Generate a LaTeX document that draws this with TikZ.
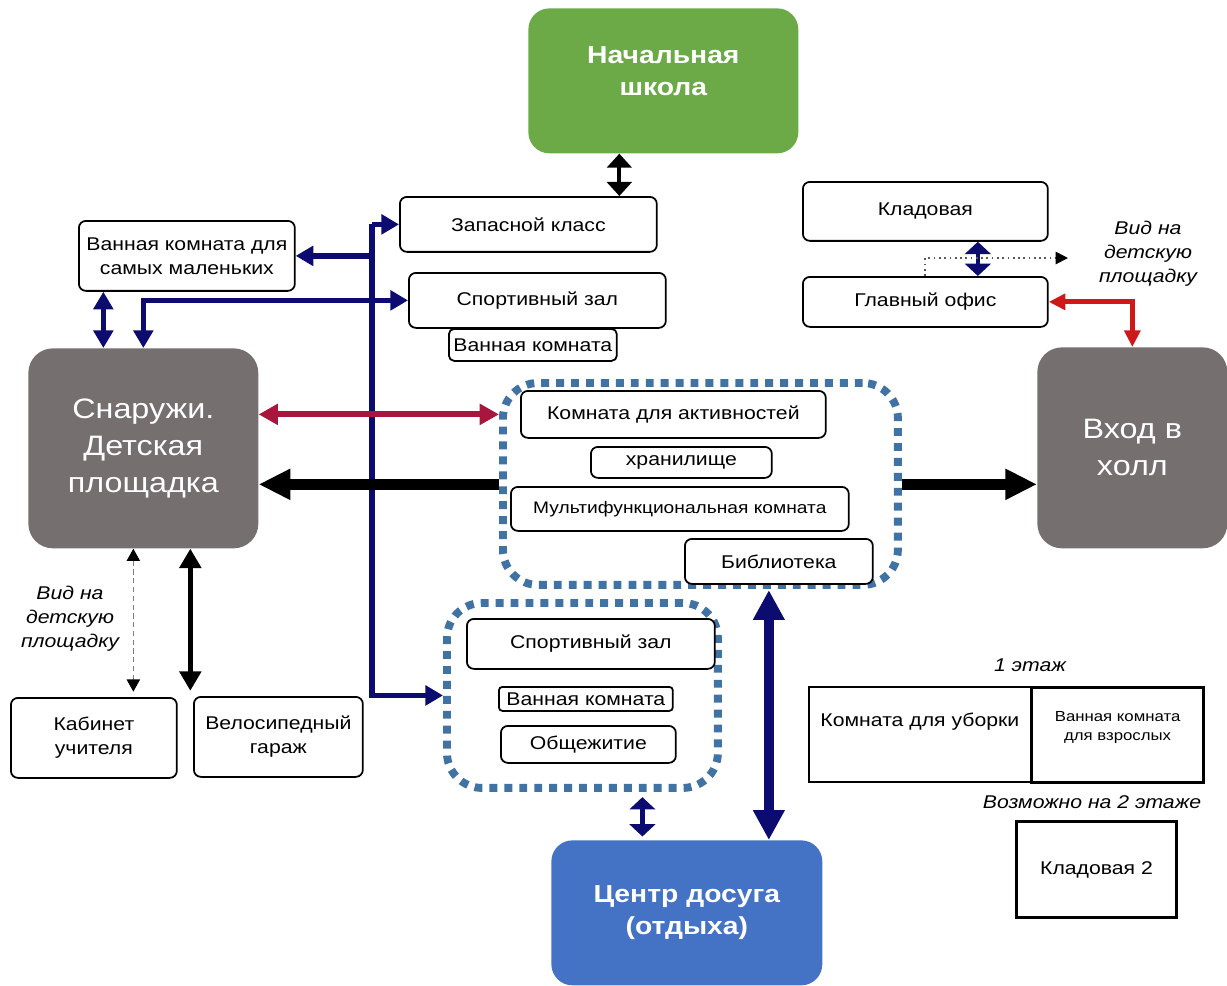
\documentclass[tikz,border=0pt]{standalone}
\usepackage{fontspec}
\setmainfont{Liberation Sans}[FakeStretch=1.15]
\usetikzlibrary{arrows.meta}

\definecolor{schoolgreen}{RGB}{108,170,72}
\definecolor{blockgrey}{RGB}{118,111,111}
\definecolor{leisureblue}{RGB}{68,114,196}
\definecolor{linknavy}{RGB}{12,12,112}
\definecolor{wingblue}{RGB}{64,114,163}
\definecolor{linkcrimson}{RGB}{168,22,62}
\definecolor{linkred}{RGB}{205,25,25}

\tikzset{
  room/.style={draw, line width=1pt, rounded corners=4pt, fill=white, align=center, inner sep=2pt, anchor=north west, font=\fontsize{10.5}{13.6}\selectfont},
  sharproom/.style={room, sharp corners},
  block/.style={rounded corners=14pt, text=white, align=center, anchor=north west, font=\fontsize{16}{21}\selectfont},
  boldblock/.style={block, rounded corners=12pt, font=\fontsize{14}{18}\selectfont\bfseries},
  wing/.style={draw=wingblue, line width=4.5pt, dash pattern=on 4.5pt off 4pt, rounded corners=20pt, anchor=north west},
  note/.style={align=center, font=\fontsize{10.5}{13.6}\selectfont\itshape},
  link/.style={linknavy, line width=3.2pt, >={Triangle[length=10pt,width=11pt]}},
  biglink/.style={linknavy, line width=5.6pt, >={Triangle[length=17pt,width=17pt]}},
  shortlink/.style={linknavy, line width=2.4pt, >={Triangle[length=7pt,width=14.5pt]}},
  schoollink/.style={black, line width=2.4pt, >={Triangle[length=8pt,width=14pt]}},
  fat/.style={black, line width=6.6pt, >={Triangle[length=18pt,width=16.5pt]}},
  bikelink/.style={black, line width=3pt, >={Triangle[length=11pt,width=12pt]}},
  crimsonlink/.style={linkcrimson, line width=3.4pt, >={Triangle[length=11pt,width=11.5pt]}},
  redlink/.style={linkred, line width=2.8pt, >={Triangle[length=9.5pt,width=9pt]}},
  viewdash/.style={gray, line width=0.9pt, dash pattern=on 3pt off 2pt, >={Triangle[length=7pt,width=7.5pt,color=black]}},
  viewdot/.style={gray!70!black, line width=1pt, dotted, >={Triangle[length=7pt,width=7pt,color=black]}}
}

\begin{document}
\begin{tikzpicture}[x=0.02cm, y=-0.02cm]
    \useasboundingbox (0,0) rectangle (1227,985);

    \node[boldblock, fill=schoolgreen, minimum width=5.4cm, minimum height=2.9cm, text depth=0.4cm] (school) at (528,8) {Начальная\\школа};
    \node[room, minimum width=5.14cm, minimum height=1.1cm] (spare) at (399,196) {Запасной класс};
    \node[room, minimum width=5.14cm, minimum height=1.1cm] (gymA) at (408,272) {Спортивный зал};
    \node[room, minimum width=3.36cm, minimum height=0.64cm, rounded corners=3pt] (bathA) at (448,328) {Ванная комната};
    \node[room, minimum width=4.32cm, minimum height=1.4cm] (toddlers) at (78,220) {Ванная комната для\\самых маленьких};
    \node[block, fill=blockgrey, minimum width=4.6cm, minimum height=4cm] (outside) at (28,348) {Снаружи.\\Детская\\площадка};
    \node[block, fill=blockgrey, minimum width=3.8cm, minimum height=4.02cm] (hall) at (1037,347) {Вход в\\холл};
    \node[room, minimum width=4.9cm, minimum height=1.18cm] (pantry) at (802,181) {Кладовая};
    \node[room, minimum width=4.9cm, minimum height=1cm] (office) at (802,276) {Главный офис};

    \node[wing, minimum width=7.9cm, minimum height=4.04cm] (wingA) at (499,379) {};
    \node[room, minimum width=6.1cm, minimum height=0.94cm] (activity) at (520,390) {Комната для активностей};
    \node[room, minimum width=3.62cm, minimum height=0.62cm] (storage) at (590,446) {хранилище};
    \node[room, minimum width=6.76cm, minimum height=0.88cm, font=\fontsize{9.5}{12}\selectfont] (multi) at (510,486) {Мультифункциональная комната};
    \node[room, minimum width=3.76cm, minimum height=0.9cm] (library) at (684,538) {Библиотека};

    \node[wing, minimum width=5.42cm, minimum height=3.7cm] (wingB) at (443,599) {};
    \node[room, minimum width=4.96cm, minimum height=1cm] (gymB) at (466,618) {Спортивный зал};
    \node[room, minimum width=3.48cm, minimum height=0.48cm, rounded corners=2pt] (bathB) at (498,686) {Ванная комната};
    \node[room, minimum width=3.5cm, minimum height=0.74cm] (dorm) at (500,725) {Общежитие};

    \node[boldblock, fill=leisureblue, minimum width=5.42cm, minimum height=2.9cm] (leisure) at (551,840) {Центр досуга\\(отдыха)};

    \node[room, minimum width=3.32cm, minimum height=1.6cm] (teacher) at (10,697) {Кабинет\\учителя};
    \node[room, minimum width=3.38cm, minimum height=1.6cm] (bike) at (193,696) {Велосипедный\\гараж};

    \node[sharproom, minimum width=4.44cm, minimum height=1.9cm, text depth=0.6cm] (cleaning) at (808,686) {Комната для уборки};
    \node[sharproom, line width=1.8pt, minimum width=3.44cm, minimum height=1.9cm, text depth=0.35cm, font=\fontsize{8.3}{10.8}\selectfont] (adultbath) at (1030,686) {Ванная комната\\для взрослых};
    \node[sharproom, line width=1.8pt, minimum width=3.2cm, minimum height=1.92cm] (pantryB) at (1015,820) {Кладовая 2};

    \node[note] (viewR) at (1148,254) {Вид на\\детскую\\площадку};
    \node[note] (viewL) at (70,619) {Вид на\\детскую\\площадку};
    \node[note] (floor1) at (1030,665) {1 этаж};
    \node[note] (floor2) at (1092,802) {Возможно на 2 этаже};

    \coordinate (trunk) at (372,0);
    \draw[link, ->] (trunk |- spare.west) -- (spare.west);
    \draw[link, ->] (trunk |- spare.west) -- (trunk |- wingB.west) -- (wingB.west);
    \draw[link, ->] (trunk |- toddlers.east) -- (toddlers.east);
    \draw[link, <->] (outside.north) -- (outside.north |- gymA.west) -- (gymA.west);
    \coordinate (tx) at ([xshift=-0.8cm]outside.north);
    \draw[link, <->] (tx |- toddlers.south) -- (tx);

    \coordinate (sc) at ([xshift=-0.88cm]school.south);
    \draw[schoollink, <->] (sc) -- (sc |- spare.north);

    \draw[crimsonlink, <->] (outside.east |- activity.west) -- (wingA.west |- activity.west);
    \coordinate (fatrow) at ([yshift=-0.72cm]outside.east);
    \draw[fat, ->] (fatrow -| wingA.west) -- (fatrow);
    \draw[fat, ->] (fatrow -| wingA.east) -- (fatrow -| hall.west);

    \coordinate (lib) at ([xshift=-0.2cm]library.south);
    \draw[biglink, <->, shorten <=3pt] (lib) -- (lib |- leisure.north);
    \coordinate (wb) at ([xshift=1.2cm]wingB.south);
    \draw[shortlink, <->, shorten <=3pt, shorten >=2pt] (wb) -- (wb |- leisure.north);

    \coordinate (po) at ([xshift=1.05cm]pantry.south);
    \draw[shortlink, <->] (po) -- (po |- office.north);
    \coordinate (view) at (1068,258);
    \draw[viewdot, ->] (office.north) -- (office.north |- view) -- (view);
    \draw[redlink, <->] (office.east) -- (office.east -| hall.north) -- (hall.north);

    \coordinate (dv) at ([xshift=-0.2cm]outside.south);
    \draw[viewdash, <->, shorten >=3pt] (dv) -- (dv |- teacher.north);
    \coordinate (bk) at ([xshift=0.94cm]outside.south);
    \draw[bikelink, <->, shorten >=3pt] (bk) -- (bk |- bike.north);
\end{tikzpicture}
\end{document}
